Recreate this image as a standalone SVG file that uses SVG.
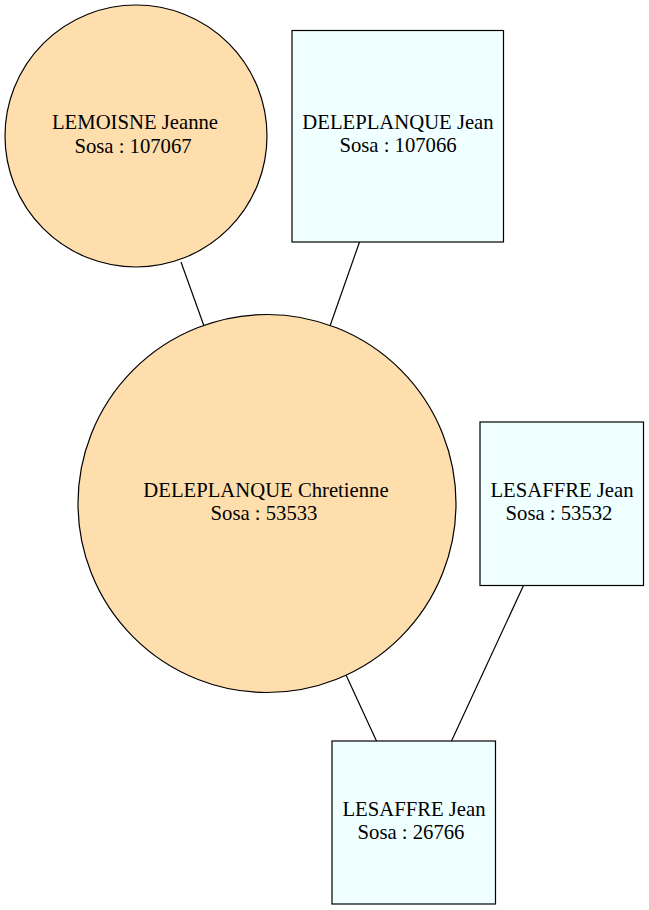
<svg xmlns="http://www.w3.org/2000/svg" width="649" height="910" viewBox="0 0 649 910">
<style>
.f{fill:#ffdead;stroke:#000;stroke-width:1.2}
.m{fill:#f0ffff;stroke:#000;stroke-width:1.2}
text{font-family:"Liberation Serif","Times New Roman",serif;font-size:20.7px;text-anchor:middle;fill:#000}
.e line{stroke:#000;stroke-width:1.2}
</style>
<rect width="649" height="910" fill="#fff"/>
<g class="e" id="edges">
<line x1="181" y1="262" x2="204" y2="326"/>
<line x1="359.5" y1="242" x2="330" y2="326"/>
<line x1="346" y1="675" x2="376.5" y2="741"/>
<line x1="523.5" y1="585.5" x2="451.5" y2="741"/>
</g>
<g id="n107067">
<circle class="f" cx="136" cy="136" r="131"/>
<text x="135" y="129">LEMOISNE Jeanne</text>
<text x="133" y="153">Sosa : 107067</text>
</g>
<g id="n107066">
<rect class="m" x="292" y="30.5" width="211.5" height="211.5"/>
<text x="398" y="129">DELEPLANQUE Jean</text>
<text x="398" y="152">Sosa : 107066</text>
</g>
<g id="n53533">
<circle class="f" cx="267" cy="503.5" r="189"/>
<text x="266" y="497">DELEPLANQUE Chretienne</text>
<text x="264" y="520">Sosa : 53533</text>
</g>
<g id="n53532">
<rect class="m" x="480" y="422" width="163.5" height="163.5"/>
<text x="562" y="497">LESAFFRE Jean</text>
<text x="559" y="520">Sosa : 53532</text>
</g>
<g id="n26766">
<rect class="m" x="332" y="741" width="163.5" height="163"/>
<text x="414" y="816">LESAFFRE Jean</text>
<text x="411" y="839">Sosa : 26766</text>
</g>
</svg>
